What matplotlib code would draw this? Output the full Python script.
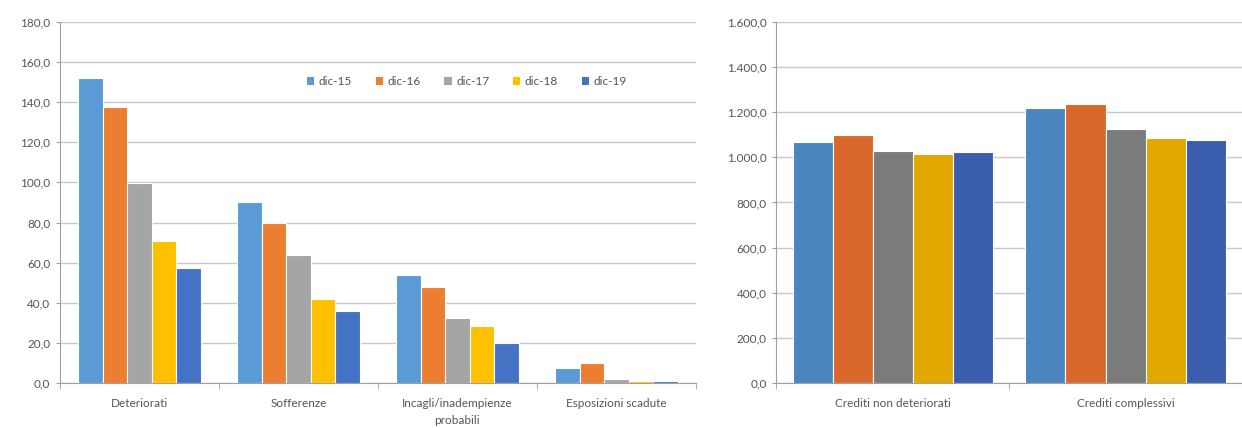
import matplotlib.pyplot as plt
import numpy as np
from matplotlib.patches import Patch
from matplotlib.ticker import FuncFormatter, MultipleLocator

plt.rcParams.update(
    {
        "font.family": ["Lato", "DejaVu Sans"],
        "font.size": 8.5,
    }
)

# Serie (dicembre di ogni anno)
periods = ["dic-15", "dic-16", "dic-17", "dic-18", "dic-19"]

# Crediti deteriorati e componenti
npl_categories = ["Deteriorati", "Sofferenze", "Incagli/inadempienze\nprobabili", "Esposizioni scadute"]
npl_dic15 = [151.9, 90.4, 54.0, 7.3]
npl_dic16 = [137.5, 79.7, 47.9, 9.8]
npl_dic17 = [99.7, 63.8, 32.2, 2.0]
npl_dic18 = [70.6, 41.8, 28.4, 0.8]
npl_dic19 = [57.5, 36.0, 20.2, 1.2]

# Crediti non deteriorati e complessivi
tot_categories = ["Crediti non deteriorati", "Crediti complessivi"]
tot_dic15 = [1066, 1220]
tot_dic16 = [1098, 1235]
tot_dic17 = [1026, 1125]
tot_dic18 = [1015, 1084]
tot_dic19 = [1022, 1078]

LEFT_COLORS = ["#5B9BD5", "#ED7D31", "#A5A5A5", "#FFC000", "#4472C4"]
RIGHT_COLORS = ["#4A85BF", "#D9692A", "#7B7B7B", "#E2A800", "#3A5DAE"]
GRID = "#C8C8C8"
TEXT = "#555555"


def it_fmt(v, _pos):
    s = f"{v:,.1f}"
    return s.replace(",", "X").replace(".", ",").replace("X", ".")


def grouped_bars(ax, categories, series, colors, group_width):
    x = np.arange(len(categories))
    n = len(series)
    w = group_width / n
    for i, (vals, c) in enumerate(zip(series, colors)):
        ax.bar(x - group_width / 2 + w * (i + 0.5), vals, width=w, color=c,
               edgecolor="white", linewidth=0.8, zorder=3)
    ax.set_xlim(-0.5, len(categories) - 0.5)
    ax.set_xticks(x)
    ax.set_xticklabels(categories, color=TEXT, fontsize=8.5, linespacing=1.6)
    ax.set_xticks(np.arange(len(categories) + 1) - 0.5, minor=True)
    ax.tick_params(axis="x", which="major", length=0, pad=11)
    ax.tick_params(axis="x", which="minor", length=4, color="#A0A0A0", direction="out")
    ax.tick_params(axis="y", length=3, color="#A0A0A0", labelcolor=TEXT, labelsize=8.5, pad=4)
    ax.yaxis.set_major_formatter(FuncFormatter(it_fmt))
    ax.grid(axis="y", color=GRID, linewidth=1.0, zorder=0)
    for side in ["top", "right"]:
        ax.spines[side].set_visible(False)
    for side in ["left", "bottom"]:
        ax.spines[side].set_color("#A0A0A0")
        ax.spines[side].set_linewidth(0.8)


fig = plt.figure(figsize=(12.42, 4.28), dpi=100)
ax1 = fig.add_axes([0.0483, 0.105, 0.512, 0.844])
ax2 = fig.add_axes([0.625, 0.105, 0.375, 0.844])

grouped_bars(ax1, npl_categories,
             [npl_dic15, npl_dic16, npl_dic17, npl_dic18, npl_dic19],
             LEFT_COLORS, 0.77)
ax1.set_ylim(0, 180)
ax1.yaxis.set_major_locator(MultipleLocator(20))

grouped_bars(ax2, tot_categories,
             [tot_dic15, tot_dic16, tot_dic17, tot_dic18, tot_dic19],
             RIGHT_COLORS, 0.86)
ax2.set_ylim(0, 1600)
ax2.yaxis.set_major_locator(MultipleLocator(200))

handles = [Patch(facecolor=c, edgecolor="none") for c in LEFT_COLORS]
leg = ax1.legend(handles, periods, loc="center", bbox_to_anchor=(0.64, 0.835),
                 ncol=5, frameon=False, handlelength=0.6, handleheight=0.6,
                 handletextpad=0.4, columnspacing=2.0, fontsize=8.5)
for t in leg.get_texts():
    t.set_color(TEXT)

fig.savefig("out.png", dpi=100, facecolor="white")
plt.close(fig)
